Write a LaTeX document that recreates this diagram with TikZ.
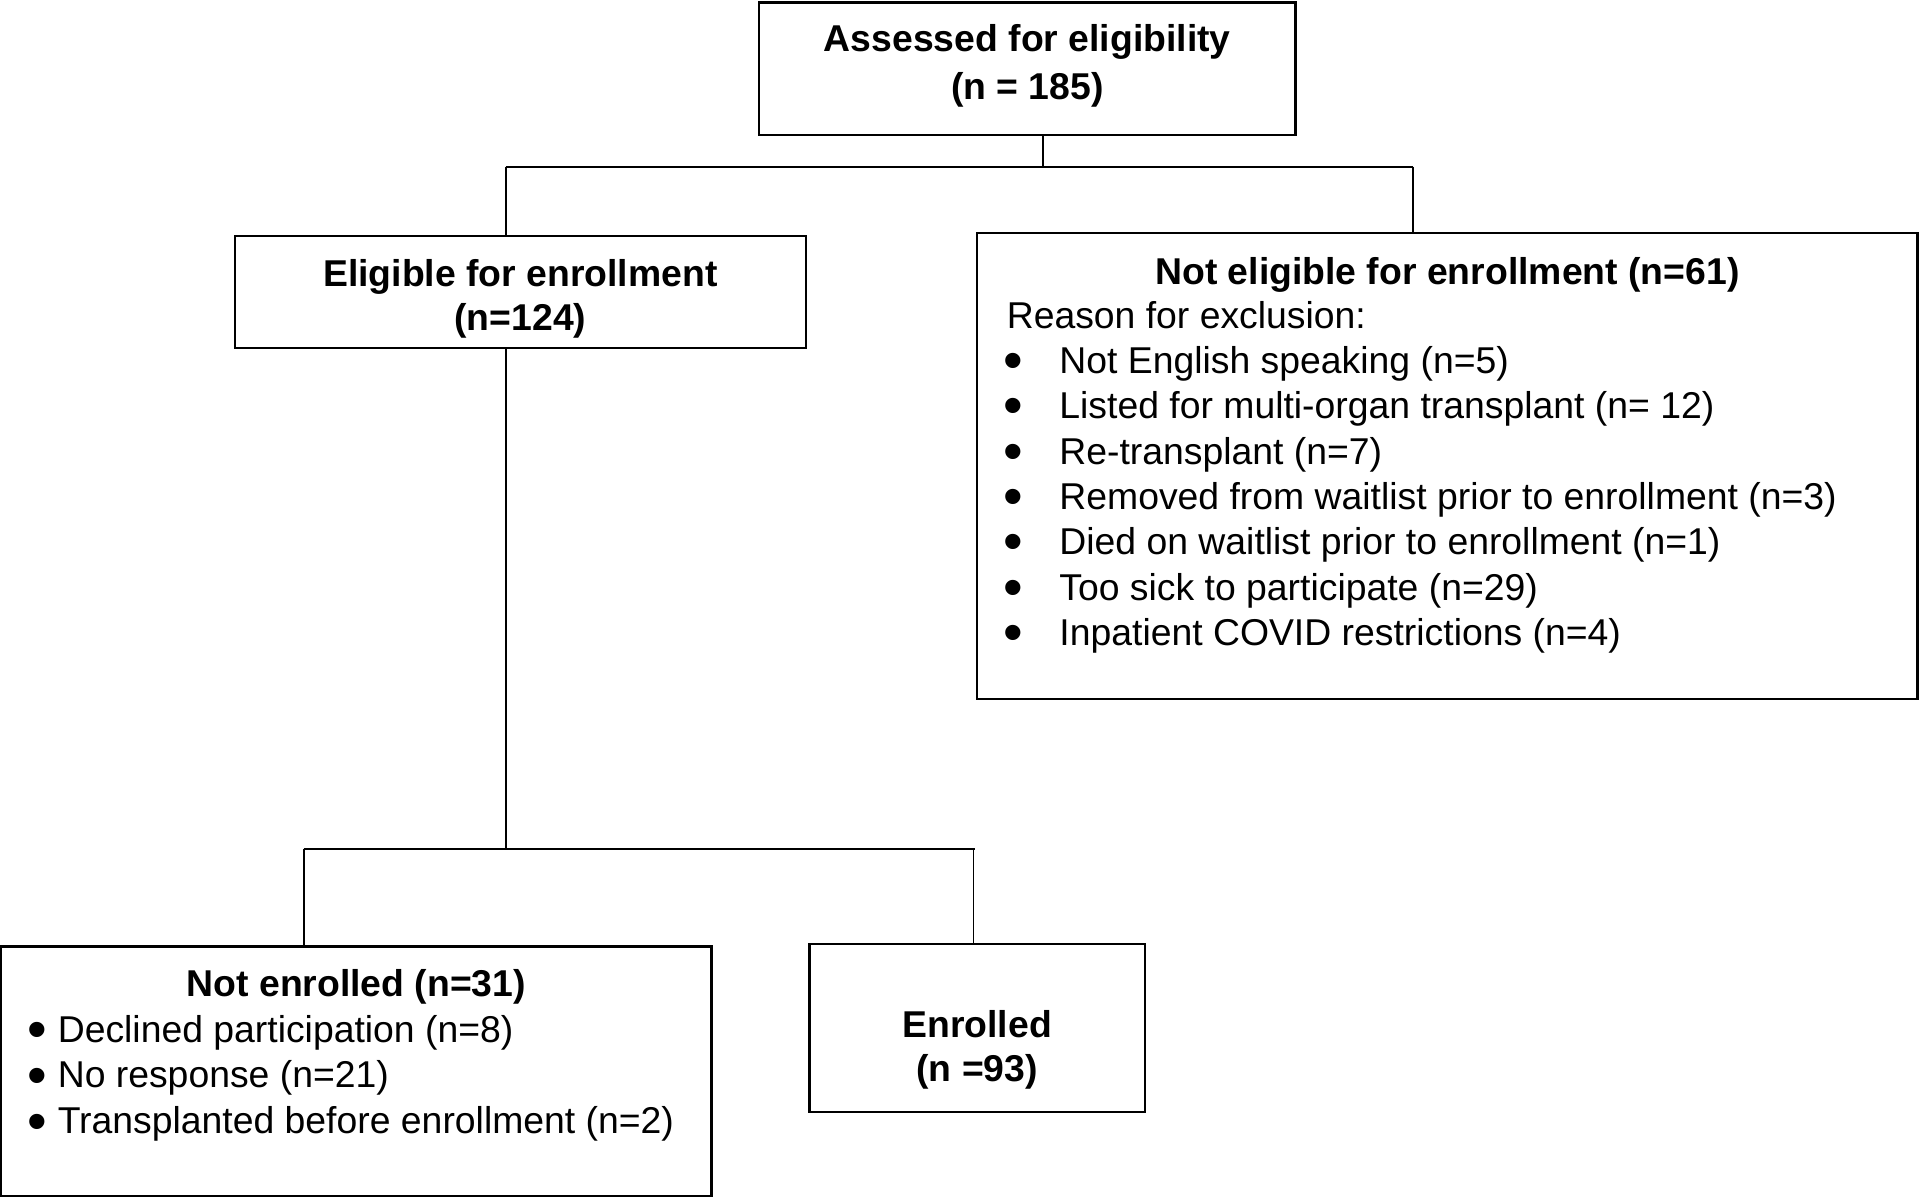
\documentclass[tikz,border=0pt]{standalone}
\usepackage{fontspec}
\setmainfont{Liberation Sans}
\newcommand{\bigbul}{\raisebox{-5pt}{\scalebox{1.5}{•}}}
\begin{document}
\begin{tikzpicture}[x=1pt,y=-1pt,
  box/.style={draw,line width=1.8pt,inner sep=0pt},
  conn/.style={line width=1.6pt},
  txt/.style={inner sep=0pt,font=\fontsize{30.5}{37}\selectfont},
  btxt/.style={txt,font=\fontsize{30.5}{37}\selectfont\bfseries}]
\useasboundingbox (0,0) rectangle (1568,979);
% boxes
\node[box,minimum width=438pt,minimum height=108pt] (top) at (839,56) {};
\node[box,minimum width=466pt,minimum height=91pt] (elig) at (425,238.5) {};
\node[box,minimum width=768pt,minimum height=381pt] (nelig) at (1182,380.5) {};
\node[box,minimum width=580pt,minimum height=204pt] (nenr) at (291,875) {};
\node[box,minimum width=274pt,minimum height=137pt] (enr) at (798,839.5) {};
% texts
\node[btxt,anchor=base] (t1) at (839,42) {Assessed for eligibility};
\node[btxt,anchor=base] (t2) at (839,81) {(n = 185)};
\node[btxt,anchor=base] (e1) at (425,234) {Eligible for enrollment};
\node[btxt,anchor=base] (e2) at (425,270) {(n=124)};
\node[btxt,anchor=base] (n0) at (1182,232) {Not eligible for enrollment (n=61)};
\node[txt,anchor=base west] (n1) at (822,268) {Reason for exclusion:};
\foreach \i/\t in {0/{Not English speaking (n=5)},1/{Listed for multi-organ transplant (n= 12)},2/{Re-transplant (n=7)},3/{Removed from waitlist prior to enrollment (n=3)},4/{Died on waitlist prior to enrollment (n=1)},5/{Too sick to participate (n=29)},6/{Inpatient COVID restrictions (n=4)}}{
  \node[txt,anchor=base west] (r\i) at (819,305+37*\i) {\makebox[46pt][l]{\bigbul}\t};
}
\node[btxt,anchor=base] (ne0) at (291,814) {Not enrolled (n=31)};
\foreach \i/\t in {0/{Declined participation (n=8)},1/{No response (n=21)},2/{Transplanted before enrollment (n=2)}}{
  \node[txt,anchor=base west] (ne\i) at (22,851+37.5*\i) {\makebox[25pt][l]{\bigbul}\t};
}
\node[btxt,anchor=base] (en1) at (798,847) {Enrolled};
\node[btxt,anchor=base] (en2) at (798,883) {(n =93)};
% connectors
\coordinate (j1) at (852,136);
\coordinate (hl) at (413,136);
\coordinate (hr) at (1154,136);
\draw[conn] (top.south -| j1) -- (j1);
\draw[conn] (hl) -- (hr);
\draw[conn] (hl) -- (hl |- elig.north);
\draw[conn] (hr) -- (hr |- nelig.north);
\coordinate (j2) at (413,693);
\coordinate (bl) at (248,693);
\coordinate (br) at (796,693);
\draw[conn] (j2 |- elig.south) -- (j2);
\draw[conn] (bl) -- (br);
\draw[conn] (bl) -- (bl |- nenr.north);
\draw[conn] ([xshift=-1pt]br) -- ([xshift=-1pt]br |- enr.north);
\end{tikzpicture}
\end{document}
